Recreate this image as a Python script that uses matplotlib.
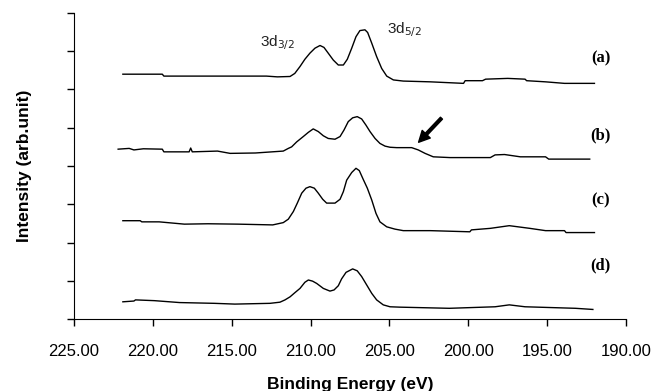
import matplotlib
matplotlib.use('Agg')
import matplotlib.pyplot as plt

# Spectra (binding energy in eV, intensity in axis units 0-8)
be_a = [221.9, 219.4, 219.3, 212.8, 212.1, 211.3, 211.0, 210.67, 210.36, 210.04,
        209.72, 209.40, 209.15, 208.88, 208.56, 208.24, 207.92, 207.67, 207.39, 207.12,
        206.87, 206.55, 206.38, 206.12, 205.81, 205.49, 205.17, 204.75, 204.12, 202.4,
        200.3, 200.2, 199.1, 198.9, 197.5, 196.4, 196.3, 195.1, 193.9, 192.0]
int_a = [6.40, 6.40, 6.35, 6.35, 6.33, 6.34, 6.42, 6.60, 6.79, 6.95,
         7.08, 7.15, 7.10, 6.95, 6.77, 6.64, 6.64, 6.79, 7.08, 7.38,
         7.54, 7.56, 7.49, 7.21, 6.86, 6.55, 6.35, 6.25, 6.22, 6.20,
         6.16, 6.23, 6.23, 6.27, 6.29, 6.27, 6.23, 6.20, 6.16, 6.16]

be_b = [222.2, 221.5, 221.2, 220.6, 219.4, 219.3, 217.7, 217.6, 217.5, 215.9,
        215.1, 213.5, 211.73, 211.41, 211.20, 210.88, 210.46, 210.14, 209.83, 209.51,
        209.19, 208.88, 208.45, 208.13, 207.88, 207.61, 207.33, 207.04, 206.76, 206.49,
        206.23, 205.91, 205.60, 205.28, 204.96, 204.54, 203.59, 203.17, 202.74, 202.22,
        201.16, 198.6, 198.3, 197.7, 197.2, 196.7, 195.1, 194.9, 192.3]
int_b = [4.44, 4.46, 4.42, 4.45, 4.44, 4.37, 4.37, 4.47, 4.37, 4.39,
         4.33, 4.34, 4.39, 4.46, 4.50, 4.63, 4.77, 4.88, 4.97, 4.90,
         4.79, 4.72, 4.70, 4.77, 4.94, 5.16, 5.26, 5.29, 5.23, 5.07,
         4.90, 4.72, 4.59, 4.52, 4.49, 4.48, 4.48, 4.42, 4.33, 4.24,
         4.22, 4.22, 4.29, 4.30, 4.27, 4.24, 4.24, 4.18, 4.18]

be_c = [221.9, 220.8, 220.7, 219.6, 218.0, 216.5, 214.6, 212.4, 211.73, 211.41,
        211.09, 210.84, 210.56, 210.29, 210.04, 209.76, 209.51, 209.23, 208.98, 208.45,
        208.13, 207.92, 207.71, 207.39, 207.12, 206.91, 206.66, 206.40, 206.12, 205.85,
        205.60, 205.17, 204.65, 204.12, 202.4, 199.9, 199.8, 198.6, 197.4, 196.1,
        195.1, 193.9, 193.8, 192.0]
int_c = [2.57, 2.57, 2.54, 2.54, 2.48, 2.49, 2.48, 2.46, 2.52, 2.61,
         2.81, 3.03, 3.29, 3.42, 3.46, 3.42, 3.29, 3.13, 3.03, 3.03,
         3.13, 3.33, 3.63, 3.83, 3.94, 3.88, 3.65, 3.42, 3.11, 2.76,
         2.54, 2.41, 2.35, 2.31, 2.31, 2.28, 2.33, 2.37, 2.44, 2.37,
         2.31, 2.31, 2.26, 2.26]

be_d = [221.9, 221.2, 221.1, 219.9, 218.3, 216.1, 214.8, 212.57, 211.94, 211.62,
        211.30, 210.99, 210.67, 210.36, 210.14, 209.87, 209.61, 209.19, 208.77, 208.51,
        208.24, 208.03, 207.75, 207.33, 207.04, 206.76, 206.44, 206.12, 205.81, 205.39,
        204.96, 204.33, 201.2, 198.3, 197.4, 196.4, 194.8, 193.2, 192.1]
int_d = [0.45, 0.47, 0.50, 0.48, 0.43, 0.41, 0.39, 0.41, 0.44, 0.50,
         0.58, 0.69, 0.80, 0.96, 1.02, 0.99, 0.93, 0.80, 0.73, 0.76,
         0.87, 1.05, 1.22, 1.31, 1.26, 1.11, 0.89, 0.67, 0.50, 0.37,
         0.32, 0.31, 0.28, 0.32, 0.37, 0.32, 0.30, 0.28, 0.25]

spectra = [(be_a, int_a), (be_b, int_b), (be_c, int_c), (be_d, int_d)]
panel_labels = ['(a)', '(b)', '(c)', '(d)']
panel_label_y = [6.82, 4.81, 3.11, 1.41]
x_ticks = [225, 220, 215, 210, 205, 200, 195, 190]

fig = plt.figure(figsize=(6.57, 3.91), dpi=100)
ax = fig.add_axes([0.1126, 0.1841, 0.8402, 0.7827])

for be, inten in spectra:
    ax.plot(be, inten, color='black', lw=1.0)

for lab, y in zip(panel_labels, panel_label_y):
    ax.text(191.6, y, lab, ha='center', va='center', fontsize=12,
            fontweight='bold', family='Liberation Serif')

ax.text(213.2, 7.14, r'3d$_{3/2}$', fontsize=11, family='Liberation Sans',
        color='#222222', va='baseline')
ax.text(205.15, 7.48, r'3d$_{5/2}$', fontsize=11, family='Liberation Sans',
        color='#222222', va='baseline')

# arrow pointing at the shoulder of (b)
ax.annotate('', xy=(203.15, 4.62), xytext=(201.7, 5.25),
            arrowprops=dict(facecolor='black', edgecolor='black', width=2,
                            headwidth=8, headlength=8))

ax.set_xlim(225, 190)
ax.set_ylim(0, 8)
ax.set_xticks(x_ticks)
ax.set_xticklabels(['%.2f' % t for t in x_ticks], family='Liberation Sans', fontsize=12)
ax.set_yticks(range(9))
ax.set_yticklabels([])
ax.tick_params(direction='out', length=5, width=1, color='black')
ax.tick_params(axis='x', pad=13)
ax.spines['top'].set_visible(False)
ax.spines['right'].set_visible(False)

ax.set_xlabel('Binding Energy (eV)', fontsize=12.5, fontweight='bold',
              family='Liberation Sans')
ax.xaxis.set_label_coords(0.5, -0.19)
ax.set_ylabel('Intensity (arb.unit)', fontsize=12.5, fontweight='bold',
              family='Liberation Sans')
ax.yaxis.set_label_coords(-0.076, 0.5)

fig.savefig('out.png', dpi=100)
